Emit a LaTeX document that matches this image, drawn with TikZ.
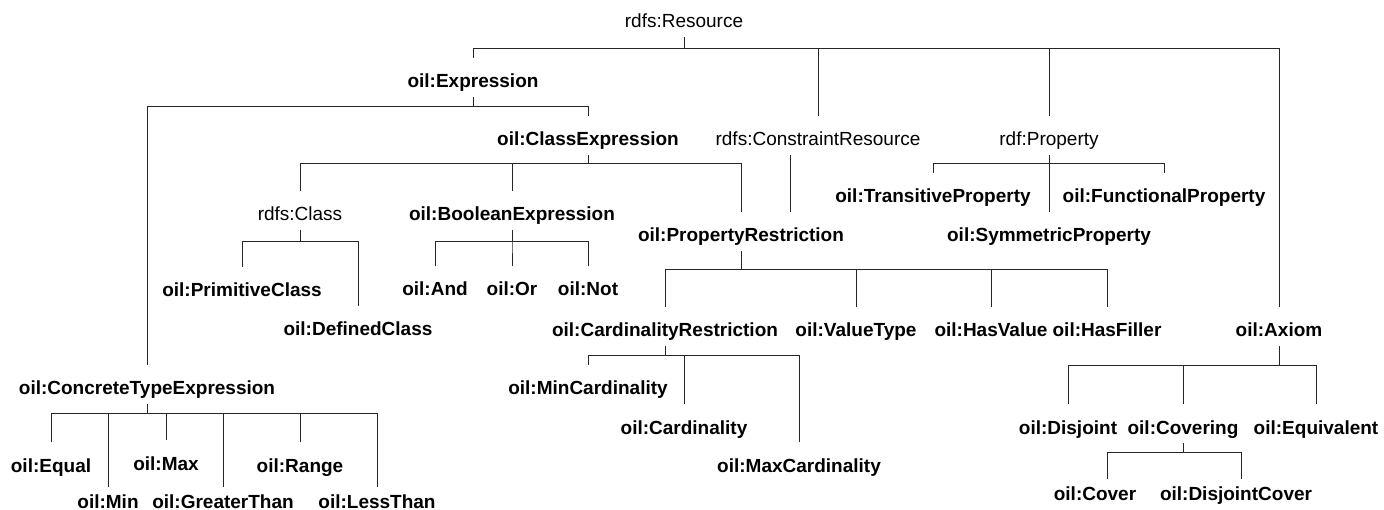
\documentclass[tikz,border=0pt]{standalone}
\usepackage{fontspec}
\setmainfont{Liberation Sans}
\begin{document}
\begin{tikzpicture}[x=1pt,y=-1pt,
  lab/.style={anchor=base, inner xsep=0pt, inner ysep=0pt, text height=30pt, text depth=9pt,
              font=\fontsize{19}{22}\selectfont\bfseries},
  reg/.style={lab, font=\fontsize{19}{22}\selectfont},
  low/.style={text height=21pt},
  link/.style={draw=black!85, line width=1pt}]
\useasboundingbox (0,0) rectangle (1384,510);
% level 0
\node[reg] (res) at (684,28) {rdfs:Resource};
% level 1
\node[lab] (exp) at (473,88) {oil:Expression};
\node[reg] (cr) at (818,146) {rdfs:ConstraintResource};
\node[reg] (prop) at (1049,146) {rdf:Property};
\node[lab] (ax) at (1279,337) {oil:Axiom};
% expression subtree
\node[lab] (cls) at (588,146) {oil:ClassExpression};
\node[lab] (cte) at (147,395) {oil:ConcreteTypeExpression};
\node[reg] (rc) at (300,221) {rdfs:Class};
\node[lab] (be) at (512,221) {oil:BooleanExpression};
\node[lab] (pr) at (741,242) {oil:PropertyRestriction};
\node[lab] (pc) at (242,297) {oil:PrimitiveClass};
\node[lab] (dc) at (358,336) {oil:DefinedClass};
\node[lab] (and) at (435,296) {oil:And};
\node[lab] (or) at (512,296) {oil:Or};
\node[lab] (not) at (588,296) {oil:Not};
\node[lab] (crs) at (665,337) {oil:CardinalityRestriction};
\node[lab] (vt) at (856,337) {oil:ValueType};
\node[lab] (hv) at (991,337) {oil:HasValue};
\node[lab] (hf) at (1107,337) {oil:HasFiller};
\node[lab] (minc) at (588,395) {oil:MinCardinality};
\node[lab] (card) at (684,434) {oil:Cardinality};
\node[lab] (maxc) at (799,472) {oil:MaxCardinality};
\node[lab] (eq) at (51,472) {oil:Equal};
\node[lab,low] (min) at (108,508) {oil:Min};
\node[lab] (max) at (166,470) {oil:Max};
\node[lab,low] (gt) at (223,508) {oil:GreaterThan};
\node[lab] (rng) at (300,472) {oil:Range};
\node[lab,low] (lt) at (377,508) {oil:LessThan};
% property subtree
\node[lab] (tp) at (933,203) {oil:TransitiveProperty};
\node[lab] (fp) at (1164,203) {oil:FunctionalProperty};
\node[lab] (sp) at (1049,242) {oil:SymmetricProperty};
% axiom subtree
\node[lab] (dis) at (1068,434) {oil:Disjoint};
\node[lab] (cov) at (1183,434) {oil:Covering};
\node[lab] (eqv) at (1316,434) {oil:Equivalent};
\node[lab,low] (cvr) at (1095,500) {oil:Cover};
\node[lab,low] (dcv) at (1236,500) {oil:DisjointCover};
\coordinate (crx) at (790,0);
% connectors
\foreach \c in {exp,cr,prop,ax} \draw[link] (res.south) -- ++(0,11) -| (\c.north);
\foreach \c in {cte,cls} \draw[link] (exp.south) -- ++(0,9) -| (\c.north);
\foreach \c in {rc,be,pr} \draw[link] (cls.south) -- ++(0,8) -| (\c.north);
\draw[link] (cr.south -| crx) -- (pr.north -| crx);
\foreach \c in {tp,fp,sp} \draw[link] (prop.south) -- ++(0,8) -| (\c.north);
\foreach \c in {pc,dc} \draw[link] (rc.south) -- ++(0,11) -| (\c.north);
\foreach \c in {and,or,not} \draw[link] (be.south) -- ++(0,11) -| (\c.north);
\foreach \c in {crs,vt,hv,hf} \draw[link] (pr.south) -- ++(0,18) -| (\c.north);
\foreach \c in {minc,card,maxc} \draw[link] (crs.south) -- ++(0,9) -| (\c.north);
\foreach \c in {eq,min,max,gt,rng,lt} \draw[link] (cte.south) -- ++(0,9) -| (\c.north);
\foreach \c in {dis,cov,eqv} \draw[link] (ax.south) -- ++(0,19) -| (\c.north);
\draw[link] (cov.south) -- ++(0,9) -| ([xshift=12pt]cvr.north);
\draw[link] (cov.south) -- ++(0,9) -| ([xshift=5pt]dcv.north);
\end{tikzpicture}
\end{document}
